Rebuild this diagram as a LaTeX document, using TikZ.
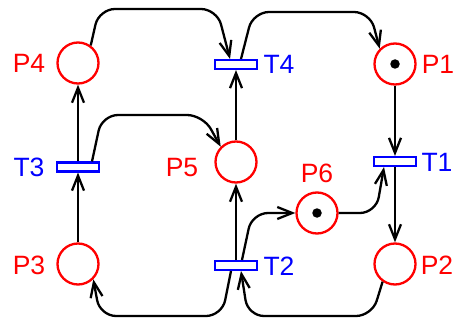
\documentclass[tikz,border=0pt]{standalone}
\usepackage{fontspec}
\setmainfont{Liberation Sans}
\usetikzlibrary{arrows.meta}
\begin{document}
\begin{tikzpicture}[x=1pt,y=-1pt,
  place/.style={circle,draw=red,line width=2.3pt,minimum size=41pt,inner sep=0pt},
  trans/.style={rectangle,draw=blue,line width=2.1pt,minimum width=42pt,minimum height=9pt,inner sep=0pt},
  plabel/.style={text=red,font=\fontsize{26.5}{30}\selectfont,inner sep=0pt},
  tlabel/.style={text=blue,font=\fontsize{26.5}{30}\selectfont,inner sep=0pt},
  arc/.style={draw=black,line width=2.3pt,-{Straight Barb[length=15pt,width=12pt]},rounded corners=16pt},
  token/.style={circle,fill=black,minimum size=9.5pt,inner sep=0pt}]
\useasboundingbox (0,0) rectangle (454,320);

% places
\node[place] (P4) at (78,63) {};
\node[place] (P1) at (395,64) {};
\node[place] (P5) at (236,162) {};
\node[place] (P6) at (317,213) {};
\node[place] (P3) at (78,264) {};
\node[place] (P2) at (395,264) {};

% tokens
\node[token] (tok1) at (P1) {};
\node[token] (tok6) at (P6) {};

% transitions
\node[trans] (T4) at (236,64.5) {};
\node[trans] (T1) at (395,161.5) {};
\node[trans] (T3) at (78,167) {};
\node[trans] (T2) at (236,265.5) {};

% labels
\node[plabel] (lP4) at (29,63) {P4};
\node[plabel] (lP1) at (438,64) {P1};
\node[plabel] (lP5) at (182,168) {P5};
\node[plabel] (lP6) at (317,173) {P6};
\node[plabel] (lP3) at (29,265) {P3};
\node[plabel] (lP2) at (437,265) {P2};
\node[tlabel] (lT4) at (279,64.5) {T4};
\node[tlabel] (lT1) at (437,162) {T1};
\node[tlabel] (lT3) at (29,167) {T3};
\node[tlabel] (lT2) at (279,266) {T2};

% arcs
\draw[arc] (P4.54) -- (99,9) -- (217,9) -- ([xshift=-6pt]T4.north);
\draw[arc] ([xshift=5pt]T4.north) -- (253,12) -- (370,12) -- (P1.135);
\draw[arc] (P1.south) -- (T1.north);
\draw[arc] (T1.south) -- (P2.north);
\draw[arc] (P2.235) -- (372,316) -- (248,316) -- ([xshift=5pt]T2.south);
\draw[arc] ([xshift=-5pt]T2.south) -- (222,316) -- (100,316) -- (P3.-45);
\draw[arc] ([xshift=6pt]T2.north) -- (252,213) -- (P6.west);
\draw[arc] (P6.east) -- (376,213) -- ([xshift=-11pt]T1.south);
\draw[arc] (T2.north) -- (P5.south);
\draw[arc] (P5.north) -- (T4.south);
\draw[arc] (P3.north) -- (T3.south);
\draw[arc] (T3.north) -- (P4.south);
\draw[arc] ([xshift=14pt]T3.north) -- (102,115) -- (203,115) -- (P5.135);
\end{tikzpicture}
\end{document}
